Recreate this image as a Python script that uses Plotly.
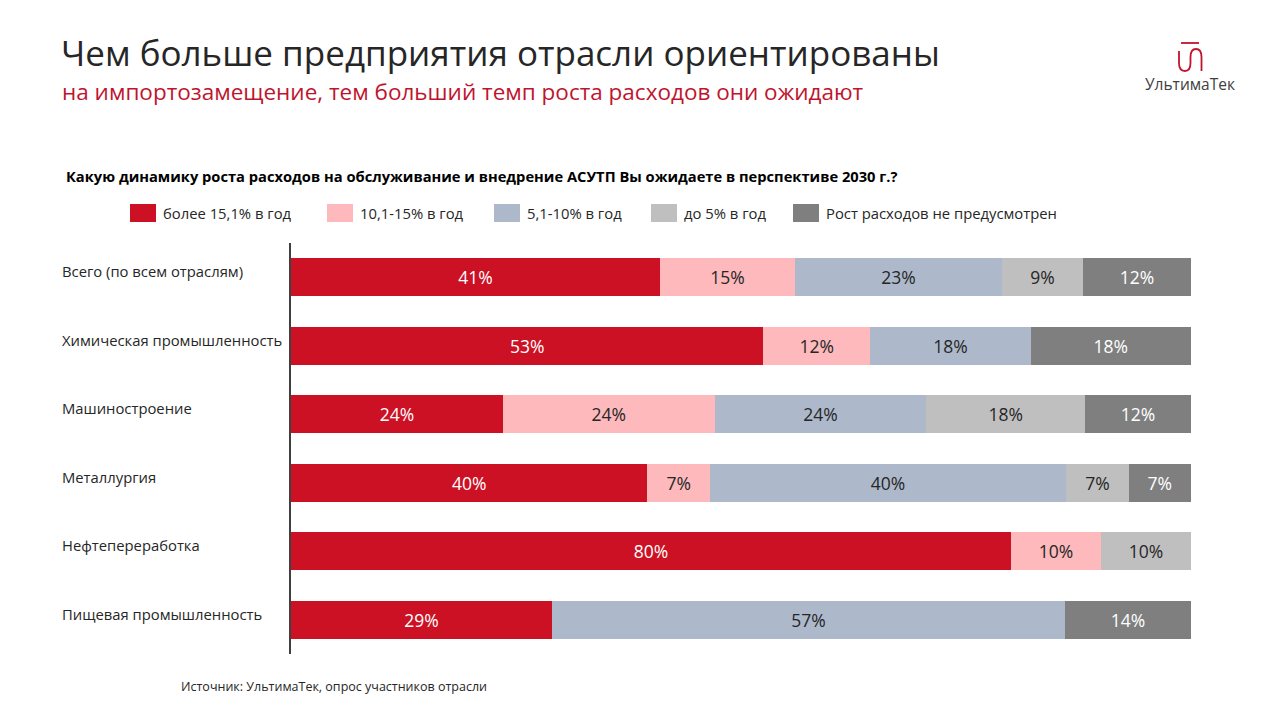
import plotly.graph_objects as go

categories = ["Всего (по всем отраслям)", "Химическая промышленность", "Машиностроение",
              "Металлургия", "Нефтепереработка", "Пищевая промышленность"]
series_names = ["более 15,1% в год", "10,1-15% в год", "5,1-10% в год", "до 5% в год",
                "Рост расходов не предусмотрен"]
values = [
    [41, 53, 24, 40, 80, 29],
    [15, 12, 24, 7, 10, None],
    [23, 18, 24, 40, None, 57],
    [9, None, 18, 7, 10, None],
    [12, 18, 12, 7, None, 14],
]
colors = ["#CC1124", "#FDB9BC", "#ADB9CA", "#BFBFBF", "#7F7F7F"]
text_colors = ["#FFFFFF", "#262626", "#262626", "#262626", "#FFFFFF"]

title = "Чем больше предприятия отрасли ориентированы"
subtitle = "на импортозамещение, тем больший темп роста расходов они ожидают"
question = "Какую динамику роста расходов на обслуживание и внедрение АСУТП Вы ожидаете в перспективе 2030 г.?"
source = "Источник: УльтимаТек, опрос участников отрасли"
brand = "УльтимаТек"

# page body has an 8px margin; figure is sized to fit the window
OFF = 8
W, H = 1280 - OFF, 720 - OFF
L, T = 291 - OFF, 243 - OFF
R = W - (1191 - OFF)
B = H - (654 - OFF)
PW, PH = W - L - R, H - T - B


def px(x):  # screen pixel -> paper
    return (x - OFF - L) / PW


def py(y):
    return (H - B - (y - OFF)) / PH


FONT = "Open Sans"
fig = go.Figure()
for name, vals, col, tcol in zip(series_names, values, colors, text_colors):
    fig.add_trace(go.Bar(
        y=categories, x=vals, name=name, orientation="h",
        marker=dict(color=col, line=dict(width=0)),
        text=[f"{v}%" if v is not None else "" for v in vals],
        textposition="inside", insidetextanchor="middle", textangle=0,
        insidetextfont=dict(color=tcol, size=17.5, family=FONT),
        hoverinfo="skip", showlegend=False,
    ))

annotations = []
shapes = []
for c in categories:
    annotations.append(dict(text=c, x=px(60), y=c, xref="paper", yref="y",
                            xanchor="left", yanchor="middle", yshift=6, showarrow=False,
                            font=dict(size=14.8, color="#262626", family=FONT)))
leg_x = [130, 327, 494, 651, 793]
leg_y = 213
for lx, name, col in zip(leg_x, series_names, colors):
    shapes.append(dict(type="rect", xref="paper", yref="paper", x0=px(lx), x1=px(lx + 26),
                       y0=py(leg_y + 9), y1=py(leg_y - 9), fillcolor=col, line=dict(width=0)))
    annotations.append(dict(text=name, x=px(lx + 31), y=py(leg_y), xref="paper", yref="paper",
                            xanchor="left", yanchor="middle", showarrow=False,
                            font=dict(size=14.8, color="#262626", family=FONT)))
annotations.append(dict(text=title, x=px(59), y=py(53), xref="paper", yref="paper",
                        xanchor="left", yanchor="middle", showarrow=False,
                        font=dict(size=35, color="#262626", family=FONT)))
annotations.append(dict(text=subtitle, x=px(60), y=py(92), xref="paper", yref="paper",
                        xanchor="left", yanchor="middle", showarrow=False,
                        font=dict(size=22.5, color="#C0142E", family=FONT)))
annotations.append(dict(text="<b>" + question + "</b>", x=px(64), y=py(176), xref="paper", yref="paper",
                        xanchor="left", yanchor="middle", showarrow=False,
                        font=dict(size=14.7, color="#000000", family=FONT)))
annotations.append(dict(text=source, x=px(179), y=py(686), xref="paper", yref="paper",
                        xanchor="left", yanchor="middle", showarrow=False,
                        font=dict(size=12.5, color="#262626", family=FONT)))
annotations.append(dict(text=brand, x=px(1190), y=py(84), xref="paper", yref="paper",
                        xanchor="center", yanchor="middle", showarrow=False,
                        font=dict(size=15.5, color="#404040", family=FONT)))

lc = "#C0142E"
shapes.append(dict(type="line", xref="paper", yref="paper", x0=px(1181), x1=px(1199),
                   y0=py(43), y1=py(43), line=dict(color=lc, width=1.8)))


def P(x, y):
    return f"{px(x):.5f},{py(y):.5f}"


path = ("M " + P(1179, 51) + " L " + P(1179, 63) +
        " Q " + P(1179, 71) + " " + P(1185, 71) +
        " Q " + P(1190.5, 71) + " " + P(1190.5, 63) +
        " L " + P(1190.5, 57) +
        " Q " + P(1190.5, 49) + " " + P(1196, 49) +
        " Q " + P(1201.5, 49) + " " + P(1201.5, 57) +
        " L " + P(1201.5, 71))
shapes.append(dict(type="path", xref="paper", yref="paper", path=path,
                   line=dict(color=lc, width=1.8)))

fig.update_layout(
    width=W, height=H, barmode="stack", barnorm="percent", bargap=0.45,
    margin=dict(l=L, r=R, t=T, b=B), paper_bgcolor="white", plot_bgcolor="white",
    xaxis=dict(range=[0, 100], visible=False, fixedrange=True),
    yaxis=dict(autorange="reversed", showticklabels=False, showgrid=False, zeroline=False,
               showline=True, linecolor="#404040", linewidth=1.5, ticks="", fixedrange=True),
    annotations=annotations, shapes=shapes,
    font=dict(family=FONT),
)
fig.write_html("out.html")
